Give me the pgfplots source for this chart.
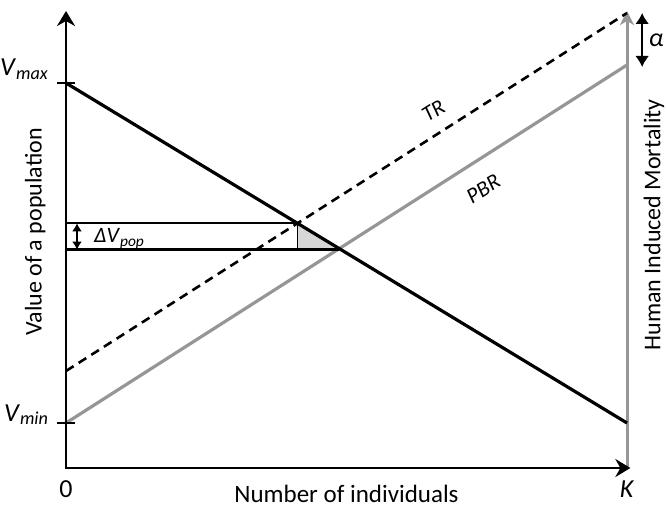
\documentclass[border=0pt]{standalone}
\usepackage{fontspec}
\setmainfont{Carlito}
\usepackage{pgfplots}
\pgfplotsset{compat=1.18}
\usetikzlibrary{arrows.meta}
\definecolor{lgray}{RGB}{150,150,150}
\definecolor{fillg}{RGB}{215,215,215}
\begin{document}
\begin{tikzpicture}
\begin{axis}[scale only axis, width=561pt, height=455pt, xmin=0, xmax=1, ymin=0, ymax=455, hide axis, clip=false]
% shaded triangle
\addplot[fill=fillg, draw=none] coordinates {(0.4126,244.7) (0.4126,218.4) (0.487,218.4)} -- cycle;
% right gray axis
\addplot[lgray, line width=3pt, -{Stealth[length=14pt,width=14pt,inset=4pt]}] coordinates {(1,0) (1,457)};
% PBR (gray)
\addplot[lgray, line width=3.2pt] coordinates {(0,45) (1,403)};
% TR (dashed)
\addplot[black, line width=2.6pt, dash pattern=on 9pt off 6pt] coordinates {(0,97) (1,455)};
% value line (black)
\addplot[black, line width=3.2pt] coordinates {(0,385) (1,45)};
% axes
\addplot[black, line width=2.8pt, {Stealth[length=15pt,width=18pt,inset=5pt]}-{Stealth[length=15pt,width=18pt,inset=5pt]}] coordinates {(0,457) (0,0) (1.006,0)};
% ticks
\addplot[black, line width=2pt] coordinates {(-0.016,385) (0.016,385)};
\addplot[black, line width=2pt] coordinates {(-0.016,45) (0.016,45)};
% Delta V box
\addplot[black, line width=2.2pt] coordinates {(0,244.7) (0.4126,244.7)};
\addplot[black, line width=2.2pt] coordinates {(0,218.4) (0.487,218.4)};
\addplot[black, line width=1.8pt] coordinates {(0.4126,244.7) (0.4126,218.4)};
\addplot[black, line width=1.8pt, {Latex[length=8pt,width=10pt]}-{Latex[length=8pt,width=10pt]}] coordinates {(0.0196,244.7) (0.0196,218.4)};
% alpha arrow
\addplot[black, line width=2.2pt, {Latex[length=11pt,width=14pt]}-{Latex[length=11pt,width=14pt]}] coordinates {(1.027,455) (1.027,401)};
% labels
\node[anchor=base east, font=\fontsize{26}{30}\selectfont] at (axis cs:-0.025,392) {\textit{V}\textsubscript{\textit{max}}};
\node[anchor=base east, font=\fontsize{26}{30}\selectfont] at (axis cs:-0.025,47) {\textit{V}\textsubscript{\textit{min}}};
\node[anchor=base west, font=\fontsize{22}{25}\selectfont] at (axis cs:0.044,225) {\textit{ΔV}\textsubscript{\textit{pop}}};
\node[font=\fontsize{26}{30}\selectfont] at (axis cs:0,-21) {0};
\node[font=\fontsize{26}{30}\selectfont] at (axis cs:1,-21) {\textit{K}};
\node[font=\fontsize{25}{30}\selectfont] at (axis cs:0.5,-25.5) {Number of individuals};
\node[rotate=90, font=\fontsize{24}{30}\selectfont] at (axis cs:-0.055,236) {Value of a population};
\node[rotate=90, font=\fontsize{24}{30}\selectfont] at (axis cs:1.048,243) {Human Induced Mortality};
\node[font=\fontsize{26}{30}\selectfont] at (axis cs:1.052,428) {\textit{α}};
\node[rotate=32, font=\fontsize{22}{26}\selectfont] at (axis cs:0.655,357) {\textit{TR}};
\node[rotate=32, font=\fontsize{22}{26}\selectfont] at (axis cs:0.744,279) {\textit{PBR}};
\coordinate (bl) at (axis cs:-0.11765,-41);
\coordinate (tr) at (axis cs:1.07130,468);
\end{axis}
\pgfresetboundingbox
\path (bl) rectangle (tr);
\end{tikzpicture}
\end{document}
